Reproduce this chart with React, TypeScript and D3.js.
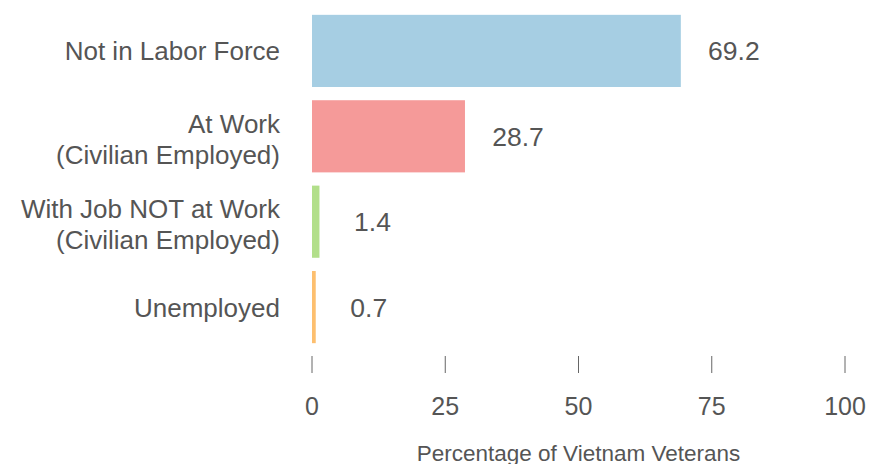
import React from "react";
import * as d3 from "d3";

const categories = [
  ["Not in Labor Force"],
  ["At Work", "(Civilian Employed)"],
  ["With Job NOT at Work", "(Civilian Employed)"],
  ["Unemployed"],
];
const values = [69.2, 28.7, 1.4, 0.7];
const colors = ["#a6cee3", "#f59a99", "#b2df8a", "#fdbf6f"];
const ticks = [0, 25, 50, 75, 100];
const axisTitle = "Percentage of Vietnam Veterans";

export default function App() {
  const W = 869, H = 464;
  const x = d3.scaleLinear().domain([0, 100]).range([312, 845]);
  const y = d3.scaleBand<number>().domain(d3.range(values.length)).range([8, 350]).paddingInner(0.155).paddingOuter(0.08);
  const font = "'Liberation Sans', Arial, Helvetica, sans-serif";
  const textColor = "#555555";
  return (
    <svg width={W} height={H} style={{ position: "absolute", left: 0, top: 0 }} fontFamily={font}>
      {values.map((v, i) => {
        const y0 = y(i)!;
        const cy = y0 + y.bandwidth() / 2;
        const lines = categories[i];
        return (
          <g key={i}>
            <rect x={x(0)} y={y0} width={x(v) - x(0)} height={y.bandwidth()} fill={colors[i]} />
            <text x={x(v) + 53} y={cy + 9.5} textAnchor="middle" fontSize={26.5} fill={textColor}>{v.toFixed(1)}</text>
            {lines.map((l, j) => (
              <text key={j} x={280} y={lines.length === 1 ? cy + 9.5 : cy - 3.5 + j * 31} textAnchor="end" fontSize={26} fill={textColor}>{l}</text>
            ))}
          </g>
        );
      })}
      {ticks.map((t) => (
        <g key={t}>
          <line x1={x(t)} x2={x(t)} y1={356} y2={373} stroke="#666" strokeWidth={1} />
          <text x={x(t)} y={415} textAnchor="middle" fontSize={25} fill={textColor}>{t}</text>
        </g>
      ))}
      <text x={(x(0) + x(100)) / 2} y={461} textAnchor="middle" fontSize={22.5} fill={textColor}>{axisTitle}</text>
    </svg>
  );
}
